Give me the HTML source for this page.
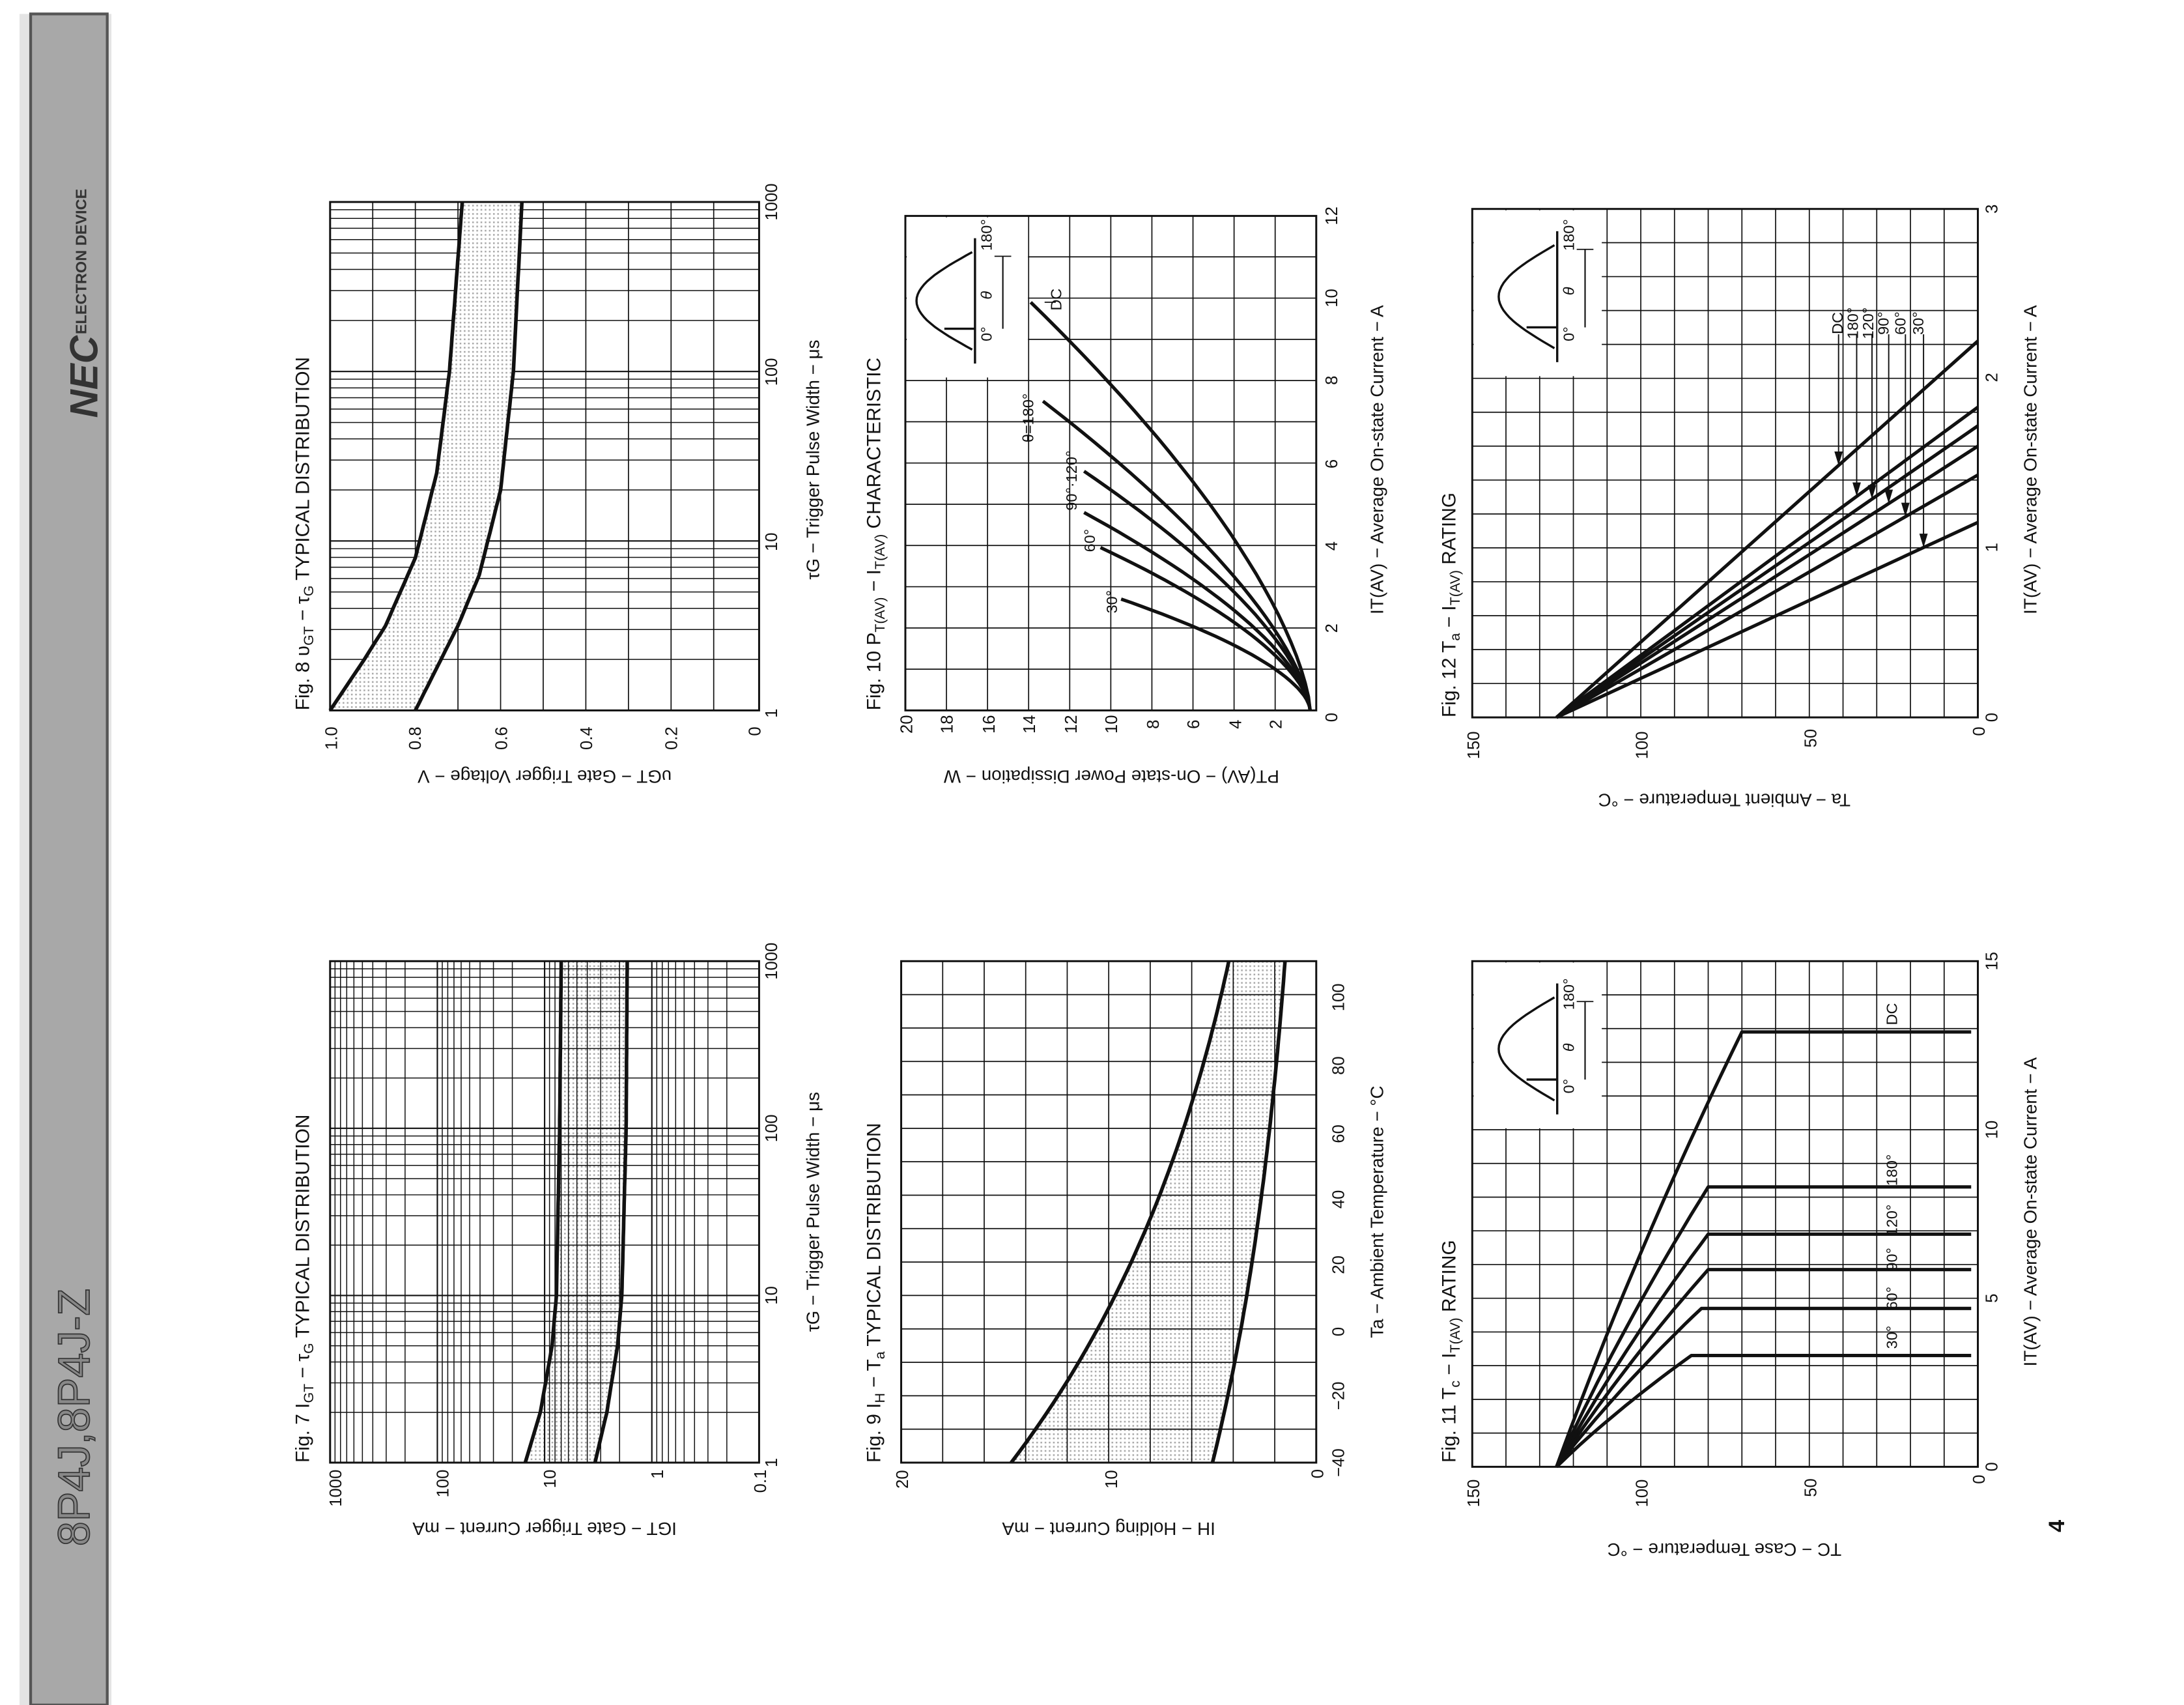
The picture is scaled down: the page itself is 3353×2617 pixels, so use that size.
<!DOCTYPE html>
<html><head><meta charset="utf-8"><style>
html,body{margin:0;padding:0;background:#fff;}
svg{display:block;}
text{font-family:"Liberation Sans",sans-serif;fill:#111;}
</style></head><body>
<svg id="s" width="3353" height="2617" viewBox="0 0 1568 1224" preserveAspectRatio="none" xmlns="http://www.w3.org/2000/svg">
<defs>
<pattern id="dots" width="3" height="3" patternUnits="userSpaceOnUse"><rect width="3" height="3" fill="#fff"/><rect x="0" y="0" width="1.2" height="1.2" fill="#aaa"/></pattern>
</defs>
<rect x="0" y="0" width="1568" height="1224" fill="#fff"/>
<!-- left band -->
<rect x="14" y="10" width="66" height="1214" fill="#e4e4e4"/>
<rect x="22" y="10" width="55" height="1214" fill="#a8a8a8" stroke="#555" stroke-width="2"/>
<text transform="translate(64,1110) rotate(-90)" font-size="32" style="fill:#888;stroke:#333;stroke-width:0.8">8P4J,8P4J-Z</text>
<text transform="translate(70,300) rotate(-90)" font-size="28" font-weight="bold" font-style="italic" style="fill:#333">NEC</text>
<text transform="translate(62,240) rotate(-90)" font-size="11" font-weight="bold" style="fill:#333">ELECTRON DEVICE</text>
<g id="g"></g>
<!-- Fig 7 texts -->
<text transform="translate(222,1050) rotate(-90)" font-size="14">Fig. 7   I<tspan font-size="10" dy="3">GT</tspan><tspan dy="-3"> − τ</tspan><tspan font-size="10" dy="3">G</tspan><tspan dy="-3"> TYPICAL DISTRIBUTION</tspan></text>
<g font-size="12">
<text transform="translate(245,1055) rotate(-90)" text-anchor="end">1000</text>
<text transform="translate(322,1055) rotate(-90)" text-anchor="end">100</text>
<text transform="translate(399,1055) rotate(-90)" text-anchor="end">10</text>
<text transform="translate(476,1055) rotate(-90)" text-anchor="end">1</text>
<text transform="translate(550,1055) rotate(-90)" text-anchor="end">0.1</text>
<text transform="translate(558,1050) rotate(-90)" text-anchor="middle">1</text>
<text transform="translate(558,930) rotate(-90)" text-anchor="middle">10</text>
<text transform="translate(558,810) rotate(-90)" text-anchor="middle">100</text>
<text transform="translate(558,690) rotate(-90)" text-anchor="middle">1000</text>
</g>
<text transform="translate(391,1093) rotate(180)" text-anchor="middle" font-size="13">IGT − Gate Trigger Current − mA</text>
<text transform="translate(588,870) rotate(-90)" text-anchor="middle" font-size="13">τG − Trigger Pulse Width − μs</text>
<!-- Fig 8 texts -->
<text transform="translate(222,510) rotate(-90)" font-size="14">Fig. 8   υ<tspan font-size="10" dy="3">GT</tspan><tspan dy="-3"> − τ</tspan><tspan font-size="10" dy="3">G</tspan><tspan dy="-3"> TYPICAL DISTRIBUTION</tspan></text>
<g font-size="12">
<text transform="translate(242,530) rotate(-90)" text-anchor="middle">1.0</text>
<text transform="translate(302,530) rotate(-90)" text-anchor="middle">0.8</text>
<text transform="translate(364,530) rotate(-90)" text-anchor="middle">0.6</text>
<text transform="translate(425,530) rotate(-90)" text-anchor="middle">0.4</text>
<text transform="translate(486,530) rotate(-90)" text-anchor="middle">0.2</text>
<text transform="translate(546,525) rotate(-90)" text-anchor="middle">0</text>
<text transform="translate(558,512) rotate(-90)" text-anchor="middle">1</text>
<text transform="translate(558,389) rotate(-90)" text-anchor="middle">10</text>
<text transform="translate(558,267) rotate(-90)" text-anchor="middle">100</text>
<text transform="translate(558,145) rotate(-90)" text-anchor="middle">1000</text>
</g>
<text transform="translate(391,553) rotate(180)" text-anchor="middle" font-size="13">υGT − Gate Trigger Voltage − V</text>
<text transform="translate(588,330) rotate(-90)" text-anchor="middle" font-size="13">τG − Trigger Pulse Width − μs</text>
<!-- Fig 9 texts -->
<text transform="translate(632,1050) rotate(-90)" font-size="14">Fig. 9   I<tspan font-size="10" dy="3">H</tspan><tspan dy="-3"> − T</tspan><tspan font-size="10" dy="3">a</tspan><tspan dy="-3"> TYPICAL DISTRIBUTION</tspan></text>
<g font-size="12">
<text transform="translate(652,1062) rotate(-90)" text-anchor="middle">20</text>
<text transform="translate(802,1062) rotate(-90)" text-anchor="middle">10</text>
<text transform="translate(950,1058) rotate(-90)" text-anchor="middle">0</text>
<text transform="translate(965,1050) rotate(-90)" text-anchor="middle">−40</text>
<text transform="translate(965,1002) rotate(-90)" text-anchor="middle">−20</text>
<text transform="translate(965,956) rotate(-90)" text-anchor="middle">0</text>
<text transform="translate(965,908) rotate(-90)" text-anchor="middle">20</text>
<text transform="translate(965,861) rotate(-90)" text-anchor="middle">40</text>
<text transform="translate(965,814) rotate(-90)" text-anchor="middle">60</text>
<text transform="translate(965,765) rotate(-90)" text-anchor="middle">80</text>
<text transform="translate(965,716) rotate(-90)" text-anchor="middle">100</text>
</g>
<text transform="translate(796,1093) rotate(180)" text-anchor="middle" font-size="13">IH − Holding Current − mA</text>
<text transform="translate(993,870) rotate(-90)" text-anchor="middle" font-size="13">Ta − Ambient Temperature − °C</text>
<!-- Fig 10 texts -->
<text transform="translate(632,510) rotate(-90)" font-size="14">Fig. 10   P<tspan font-size="10" dy="3">T(AV)</tspan><tspan dy="-3"> − I</tspan><tspan font-size="10" dy="3">T(AV)</tspan><tspan dy="-3"> CHARACTERISTIC</tspan></text>
<g font-size="12">
<text transform="translate(655,520) rotate(-90)" text-anchor="middle">20</text>
<text transform="translate(684,520) rotate(-90)" text-anchor="middle">18</text>
<text transform="translate(714,520) rotate(-90)" text-anchor="middle">16</text>
<text transform="translate(743,520) rotate(-90)" text-anchor="middle">14</text>
<text transform="translate(773,520) rotate(-90)" text-anchor="middle">12</text>
<text transform="translate(802,520) rotate(-90)" text-anchor="middle">10</text>
<text transform="translate(832,520) rotate(-90)" text-anchor="middle">8</text>
<text transform="translate(861,520) rotate(-90)" text-anchor="middle">6</text>
<text transform="translate(891,520) rotate(-90)" text-anchor="middle">4</text>
<text transform="translate(920,520) rotate(-90)" text-anchor="middle">2</text>
<text transform="translate(960,515) rotate(-90)" text-anchor="middle">0</text>
<text transform="translate(960,451) rotate(-90)" text-anchor="middle">2</text>
<text transform="translate(960,392) rotate(-90)" text-anchor="middle">4</text>
<text transform="translate(960,333) rotate(-90)" text-anchor="middle">6</text>
<text transform="translate(960,273) rotate(-90)" text-anchor="middle">8</text>
<text transform="translate(960,214) rotate(-90)" text-anchor="middle">10</text>
<text transform="translate(960,155) rotate(-90)" text-anchor="middle">12</text>
</g>
<text transform="translate(798,553) rotate(180)" text-anchor="middle" font-size="13">PT(AV) − On-state Power Dissipation − W</text>
<text transform="translate(993,330) rotate(-90)" text-anchor="middle" font-size="13">IT(AV) − Average On-state Current − A</text>
<g font-size="11">
<text transform="translate(762,215) rotate(-90)" text-anchor="middle">DC</text>
<text transform="translate(742,300) rotate(-90)" text-anchor="middle">θ=180°</text>
<text transform="translate(773,345) rotate(-90)" text-anchor="middle">90°·120°</text>
<text transform="translate(786,388) rotate(-90)" text-anchor="middle">60°</text>
<text transform="translate(802,432) rotate(-90)" text-anchor="middle">30°</text>
</g>
<!-- Fig 11 texts -->
<text transform="translate(1045,1050) rotate(-90)" font-size="14">Fig. 11   T<tspan font-size="10" dy="3">c</tspan><tspan dy="-3"> − I</tspan><tspan font-size="10" dy="3">T(AV)</tspan><tspan dy="-3"> RATING</tspan></text>
<g font-size="12">
<text transform="translate(1062,1072) rotate(-90)" text-anchor="middle">150</text>
<text transform="translate(1183,1072) rotate(-90)" text-anchor="middle">100</text>
<text transform="translate(1304,1068) rotate(-90)" text-anchor="middle">50</text>
<text transform="translate(1425,1062) rotate(-90)" text-anchor="middle">0</text>
<text transform="translate(1434,1053) rotate(-90)" text-anchor="middle">0</text>
<text transform="translate(1434,932) rotate(-90)" text-anchor="middle">5</text>
<text transform="translate(1434,811) rotate(-90)" text-anchor="middle">10</text>
<text transform="translate(1434,690) rotate(-90)" text-anchor="middle">15</text>
</g>
<text transform="translate(1238,1108) rotate(180)" text-anchor="middle" font-size="13">TC − Case Temperature − °C</text>
<text transform="translate(1462,870) rotate(-90)" text-anchor="middle" font-size="13">IT(AV) − Average On-state Current − A</text>
<g font-size="11">
<text transform="translate(1362,960) rotate(-90)" text-anchor="middle">30°</text>
<text transform="translate(1362,932) rotate(-90)" text-anchor="middle">60°</text>
<text transform="translate(1362,904) rotate(-90)" text-anchor="middle">90°</text>
<text transform="translate(1362,876) rotate(-90)" text-anchor="middle">120°</text>
<text transform="translate(1362,840) rotate(-90)" text-anchor="middle">180°</text>
<text transform="translate(1362,728) rotate(-90)" text-anchor="middle">DC</text>
</g>
<!-- Fig 12 texts -->
<text transform="translate(1045,515) rotate(-90)" font-size="14">Fig. 12   T<tspan font-size="10" dy="3">a</tspan><tspan dy="-3"> − I</tspan><tspan font-size="10" dy="3">T(AV)</tspan><tspan dy="-3"> RATING</tspan></text>
<g font-size="12">
<text transform="translate(1062,535) rotate(-90)" text-anchor="middle">150</text>
<text transform="translate(1183,535) rotate(-90)" text-anchor="middle">100</text>
<text transform="translate(1304,530) rotate(-90)" text-anchor="middle">50</text>
<text transform="translate(1425,525) rotate(-90)" text-anchor="middle">0</text>
<text transform="translate(1434,515) rotate(-90)" text-anchor="middle">0</text>
<text transform="translate(1434,393) rotate(-90)" text-anchor="middle">1</text>
<text transform="translate(1434,271) rotate(-90)" text-anchor="middle">2</text>
<text transform="translate(1434,150) rotate(-90)" text-anchor="middle">3</text>
</g>
<text transform="translate(1238,570) rotate(180)" text-anchor="middle" font-size="13">Ta − Ambient Temperature − °C</text>
<text transform="translate(1462,330) rotate(-90)" text-anchor="middle" font-size="13">IT(AV) − Average On-state Current − A</text>
<g font-size="11">
<text transform="translate(1323,232) rotate(-90)" text-anchor="middle">DC</text>
<text transform="translate(1334,232) rotate(-90)" text-anchor="middle">180°</text>
<text transform="translate(1345,232) rotate(-90)" text-anchor="middle">120°</text>
<text transform="translate(1356,232) rotate(-90)" text-anchor="middle">90°</text>
<text transform="translate(1368,232) rotate(-90)" text-anchor="middle">60°</text>
<text transform="translate(1381,232) rotate(-90)" text-anchor="middle">30°</text>
</g>
<!-- inset labels -->
<g font-size="11">
<text transform="translate(712,245) rotate(-90)">0°</text><text transform="translate(712,215) rotate(-90)" font-style="italic">θ</text><text transform="translate(712,180) rotate(-90)">180°</text>
<text transform="translate(1130,785) rotate(-90)">0°</text><text transform="translate(1130,755) rotate(-90)" font-style="italic">θ</text><text transform="translate(1130,725) rotate(-90)">180°</text>
<text transform="translate(1130,245) rotate(-90)">0°</text><text transform="translate(1130,212) rotate(-90)" font-style="italic">θ</text><text transform="translate(1130,180) rotate(-90)">180°</text>
</g>
<text transform="translate(1482,1100) rotate(-90)" font-size="16" font-weight="bold">4</text>
</svg>
<script>
var g=document.getElementById('g'),NS='http://www.w3.org/2000/svg';
function el(n,a){var e=document.createElementNS(NS,n);for(var k in a)e.setAttribute(k,a[k]);g.appendChild(e);return e;}
function L(x1,y1,x2,y2,w){el('line',{x1:x1,y1:y1,x2:x2,y2:y2,stroke:'#111','stroke-width':w||0.8});}
function P(pts,w,fill){el('path',{d:'M'+pts.map(function(p){return p[0].toFixed(1)+','+p[1].toFixed(1)}).join('L'),fill:fill||'none',stroke:fill?'none':'#111','stroke-width':w||2.4,'stroke-linejoin':'round'});}
function box(x1,y1,x2,y2){el('rect',{x:x1,y:y1,width:x2-x1,height:y2-y1,fill:'none',stroke:'#111','stroke-width':1.4});}
function band(a,b){P(a.concat(b.slice().reverse()),0,'url(#dots)');}
function interp(tab,x){for(var i=0;i<tab.length-1;i++){if(x<=tab[i+1][0]){var t=(x-tab[i][0])/(tab[i+1][0]-tab[i][0]);return tab[i][1]+t*(tab[i+1][1]-tab[i][1]);}}return tab[tab.length-1][1];}
function inset(x1,y1,x2,y2,ax){el('rect',{x:x1,y:y1,width:x2-x1,height:y2-y1,fill:'#fff'});
 L(ax,y1+15,ax,y2-10,1.6);
 var pts=[];for(var i=0;i<=30;i++){var t=i/30*Math.PI;pts.push([ax-40*Math.sin(t)-2,y2-20-(y2-y1-45)*i/30]);}
 P(pts,1.6);L(ax-22,y2-35,ax,y2-35,1.6);L(ax+20,y1+28,ax+20,y2-35,1);L(ax+14,y1+28,ax+26,y1+28,0.8);}
// Fig7
(function(){var X=function(v){return 545-(Math.log10(v)+1)/4*308},Y=function(t){return 1050-Math.log10(t)/3*360};
var up=[[0,1.18],[0.3,1.04],[0.7,0.93],[1,0.89],[2,0.86],[3,0.845]],lo=[[0,0.53],[0.3,0.42],[0.7,0.32],[1,0.28],[2,0.24],[3,0.23]];
var a=[],b=[];for(var i=0;i<=60;i++){var l=i/20;a.push([545-(interp(up,l)+1)/4*308,Y(Math.pow(10,l))]);b.push([545-(interp(lo,l)+1)/4*308,Y(Math.pow(10,l))]);}
band(a,b);
for(var d=0.1;d<1000;d*=10)for(var m=1;m<10;m++){var x=X(d*m);L(x,690,x,1050,m==1?1:0.7);}
for(var d=1;d<1000;d*=10)for(var m=1;m<10;m++){var y=Y(d*m);L(237,y,545,y,m==1?1:0.7);}
box(237,690,545,1050);P(a,2.6);P(b,2.6);})();
// Fig8
(function(){var X=function(v){return 543-v*306},Y=function(t){return 510-t/3*365};
for(var v=1;v<10;v++)L(X(v/10),145,X(v/10),510,0.8);
for(var d=1;d<1000;d*=10)for(var m=1;m<10;m++){var y=Y(Math.log10(d*m));L(237,y,545,y,m==1?1:0.7);}
var up=[[0,1.0],[0.3,0.92],[0.5,0.87],[0.9,0.8],[1.4,0.75],[2,0.72],[3,0.69]],lo=[[0,0.8],[0.3,0.74],[0.5,0.7],[0.8,0.65],[1.3,0.6],[2,0.57],[3,0.55]];
var a=[],b=[];for(var i=0;i<=60;i++){var l=i/20;a.push([X(interp(up,l)),Y(l)]);b.push([X(interp(lo,l)),Y(l)]);}
band(a,b);box(237,145,545,510);P(a,2.6);P(b,2.6);})();
// Fig9
(function(){var X=function(v){return 945-v*14.9},Y=function(t){return 1050-(t+40)*2.4};
var a=[],b=[];for(var T=-40;T<=110;T+=3){a.push([X(14.7*Math.exp(-(T+40)/120)),Y(T)]);b.push([X(5*Math.exp(-(T+40)/125)),Y(T)]);}
band(a,b);
for(var v=2;v<20;v+=2)L(X(v),690,X(v),1050);for(var T=-30;T<110;T+=10)L(647,Y(T),945,Y(T));
box(647,690,945,1050);P(a,2.6);P(b,2.6);})();
// Fig10
(function(){var X=function(v){return 945-v*14.75},Y=function(i){return 510-i*29.6};
for(var v=2;v<20;v+=2)L(X(v),155,X(v),510);for(var i=1;i<12;i++)L(650,Y(i),945,Y(i));
box(650,155,945,510);inset(651,156,738,271,700);
var c=[[9.9,13.9,1.5],[7.5,13.3,1.5],[5.8,11.3,1.55],[4.8,11.3,1.6],[3.95,10.5,1.65],[2.7,9.5,1.7]];
c.forEach(function(q){var k=(q[1]-0.3)/Math.pow(q[0],q[2]),p=[];for(var j=0;j<=30;j++){var i=q[0]*j/30;p.push([X(0.3+k*Math.pow(i,q[2])),Y(i)]);}P(p,2.4);});
L(X(13.9)+10,Y(9.9),X(13.9)+18,Y(9.9),0.8);})();
// Fig11
(function(){var X=function(t){return 1420-t*2.42},Y=function(i){return 1053-i*24.2};
for(var t=10;t<150;t+=10)L(X(t),690,X(t),1053);for(var i=1;i<15;i++)L(1057,Y(i),1420,Y(i));
box(1057,690,1420,1053);inset(1058,691,1150,810,1118);
var k=[[3.3,85],[4.7,82],[5.85,80],[6.9,80],[8.3,80],[12.9,70]];
k.forEach(function(q){var p=[];for(var j=0;j<=20;j++){var s=j/20;var i=q[0]*s;var t=125-(125-q[1])*(0.85*s+0.15*s*s);p.push([X(t),Y(i)]);}p.push([X(2),Y(q[0])]);P(p,2.4);});})();
// Fig12
(function(){var X=function(t){return 1420-t*2.42},Y=function(i){return 515-i*121.7};
for(var t=10;t<150;t+=10)L(X(t),150,X(t),515);for(var i=1;i<15;i++)L(1057,Y(i/5),1420,Y(i/5));
box(1057,150,1420,515);inset(1058,151,1150,270,1118);
var e=[2.22,1.83,1.72,1.6,1.43,1.15];
e.forEach(function(m){P([[X(125),Y(0)],[X(0),Y(m)]],2.4);});
var ax=[1320,1333,1344,1356,1368,1381];
ax.forEach(function(x,j){var t=(1420-x)/2.42,i=e[j]*(1-t/125);var y=Y(i);L(x,240,x,y,0.9);el('path',{d:'M'+(x-3)+','+(y-10)+'L'+(x+3)+','+(y-10)+'L'+x+','+y+'Z',fill:'#111'});});})();
</script>
</body></html>
